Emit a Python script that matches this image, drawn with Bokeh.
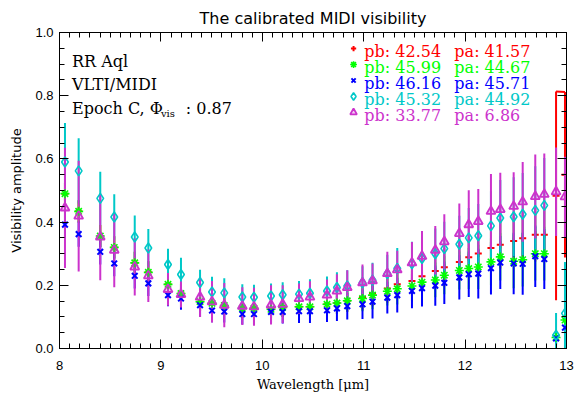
import numpy as np
from bokeh.plotting import figure
from bokeh.models import (Range1d, LinearAxis, SingleIntervalTicker, Label,
                          PrintfTickFormatter, CustomJSTickFormatter)
from bokeh.core.properties import value
from bokeh.embed import file_html
from bokeh.resources import INLINE

# ---------------- data ----------------
wavelength = [8.054, 8.189, 8.402, 8.540, 8.742, 8.876, 9.070, 9.198, 9.386, 9.504,
              9.625, 9.803, 9.918, 10.086, 10.201, 10.362, 10.470, 10.638, 10.736, 10.838,
              10.988, 11.087, 11.233, 11.331, 11.476, 11.575, 11.706, 11.795, 11.943, 12.036,
              12.130, 12.255, 12.347, 12.479, 12.568, 12.692, 12.781, 12.897, 12.985]

vis_red = [0.490, 0.434, 0.356, 0.320, 0.271, 0.241, 0.203, 0.174, 0.148, 0.143,
           0.136, 0.127, 0.127, 0.124, 0.130, 0.132, 0.132, 0.140, 0.144, 0.151,
           0.163, 0.174, 0.190, 0.203, 0.214, 0.229, 0.245, 0.257, 0.274, 0.289,
           0.301, 0.318, 0.328, 0.340, 0.349, 0.360, 0.360, 0.483, 0.550]
err_red = [0.035, 0.035, 0.035, 0.035, 0.035, 0.035, 0.030, 0.030, 0.030, 0.030,
           0.030, 0.030, 0.030, 0.030, 0.030, 0.030, 0.030, 0.030, 0.035, 0.035,
           0.040, 0.040, 0.045, 0.045, 0.050, 0.050, 0.055, 0.060, 0.060, 0.065,
           0.070, 0.070, 0.075, 0.080, 0.080, 0.085, 0.085, 0.330, 0.262]

vis_green = [0.490, 0.434, 0.356, 0.320, 0.271, 0.241, 0.203, 0.174, 0.148, 0.143,
             0.136, 0.127, 0.127, 0.124, 0.130, 0.132, 0.132, 0.140, 0.144, 0.151,
             0.158, 0.169, 0.181, 0.189, 0.198, 0.210, 0.217, 0.232, 0.247, 0.253,
             0.258, 0.274, 0.290, 0.276, 0.281, 0.300, 0.300, 0.035, 0.090]
err_green = [0.035, 0.035, 0.035, 0.035, 0.035, 0.035, 0.030, 0.030, 0.030, 0.030,
             0.030, 0.030, 0.030, 0.030, 0.030, 0.030, 0.030, 0.030, 0.035, 0.035,
             0.040, 0.045, 0.045, 0.050, 0.050, 0.050, 0.055, 0.060, 0.060, 0.065,
             0.070, 0.075, 0.075, 0.085, 0.085, 0.085, 0.085, 0.020, 0.020]

vis_blue = [0.392, 0.362, 0.306, 0.269, 0.230, 0.206, 0.169, 0.158, 0.137, 0.120,
            0.117, 0.109, 0.109, 0.116, 0.116, 0.118, 0.118, 0.121, 0.127, 0.134,
            0.140, 0.148, 0.161, 0.169, 0.182, 0.191, 0.199, 0.208, 0.225, 0.235,
            0.237, 0.254, 0.272, 0.269, 0.268, 0.292, 0.283, 0.032, 0.066]
err_blue = [0.040, 0.040, 0.040, 0.040, 0.040, 0.040, 0.035, 0.035, 0.037, 0.037,
            0.035, 0.033, 0.033, 0.037, 0.037, 0.037, 0.037, 0.037, 0.040, 0.042,
            0.047, 0.053, 0.050, 0.055, 0.055, 0.058, 0.064, 0.067, 0.070, 0.072,
            0.079, 0.083, 0.084, 0.097, 0.098, 0.097, 0.095, 0.020, 0.020]

vis_cyan = [0.590, 0.562, 0.475, 0.416, 0.353, 0.318, 0.266, 0.234, 0.209, 0.179,
            0.176, 0.163, 0.162, 0.166, 0.170, 0.172, 0.175, 0.182, 0.193, 0.198,
            0.208, 0.216, 0.237, 0.253, 0.268, 0.285, 0.300, 0.316, 0.330, 0.350,
            0.357, 0.388, 0.413, 0.417, 0.425, 0.437, 0.453, 0.042, 0.111]
err_cyan = [0.124, 0.103, 0.084, 0.072, 0.068, 0.060, 0.050, 0.053, 0.040, 0.048,
            0.046, 0.040, 0.040, 0.040, 0.040, 0.042, 0.044, 0.046, 0.048, 0.050,
            0.052, 0.055, 0.060, 0.065, 0.070, 0.075, 0.080, 0.085, 0.090, 0.095,
            0.100, 0.110, 0.120, 0.125, 0.130, 0.140, 0.150, 0.070, 0.163]

vis_magenta = [0.445, 0.419, 0.353, 0.311, 0.258, 0.230, 0.187, 0.171, 0.163, 0.148,
               0.137, 0.134, 0.132, 0.138, 0.140, 0.158, 0.163, 0.169, 0.182, 0.193,
               0.208, 0.214, 0.237, 0.249, 0.271, 0.292, 0.311, 0.338, 0.364, 0.392,
               0.402, 0.434, 0.440, 0.450, 0.464, 0.481, 0.488, 0.496, 0.480]
err_magenta = [0.190, 0.175, 0.137, 0.117, 0.090, 0.083, 0.052, 0.041, 0.063, 0.066,
               0.070, 0.060, 0.060, 0.062, 0.060, 0.048, 0.050, 0.049, 0.053, 0.055,
               0.058, 0.055, 0.069, 0.060, 0.066, 0.080, 0.077, 0.087, 0.095, 0.109,
               0.103, 0.118, 0.116, 0.108, 0.126, 0.133, 0.129, 0.140, 0.127]

legend_pb = ["42.54", "45.99", "46.16", "45.32", "33.77"]
legend_pa = ["41.57", "44.67", "45.71", "44.92", "6.86"]

series_colors = ["#ff0000", "#00ff00", "#0000ff", "#00c8c8", "#cc33cc"]
series_markers = ["cross", "asterisk", "x", "diamond", "triangle"]

# ---------------- figure ----------------
p = figure(width=576, height=395, x_range=Range1d(8, 13), y_range=Range1d(0, 1),
           output_backend="svg", toolbar_location=None,
           min_border_left=59, min_border_right=10, min_border_top=32, min_border_bottom=47,
           title="The calibrated MIDI visibility")
p.background_fill_color = "white"
p.border_fill_color = "white"
p.grid.visible = False
p.outline_line_color = "black"
p.outline_line_width = 1

p.title.align = "center"
p.title.text_font = "DejaVu Sans"
p.title.text_font_size = "16px"
p.title.text_font_style = "normal"
p.title.text_color = "black"
p.title.offset = -8

def style_axis(ax, labels=True):
    ax.major_tick_in = 9
    ax.major_tick_out = 0
    ax.minor_tick_in = 5
    ax.minor_tick_out = 0
    ax.axis_line_color = "black"
    ax.major_tick_line_color = "black"
    ax.minor_tick_line_color = "black"
    if labels:
        ax.major_label_text_font = "Liberation Sans"
        ax.major_label_text_font_size = "13px"
        ax.major_label_text_color = "black"
        ax.axis_label_text_color = "black"
    else:
        ax.formatter = CustomJSTickFormatter(code="return ''")
        ax.major_label_standoff = 0

p.xaxis.ticker = SingleIntervalTicker(interval=1, num_minor_ticks=10)
p.yaxis.ticker = SingleIntervalTicker(interval=0.2, num_minor_ticks=4)
style_axis(p.xaxis[0])
style_axis(p.yaxis[0])
p.xaxis.major_label_standoff = 12
p.yaxis.major_label_standoff = 6
p.yaxis.formatter = PrintfTickFormatter(format="%.1f")
p.xaxis.formatter = PrintfTickFormatter(format="%d")

p.xaxis.axis_label = "Wavelength [\u03bcm]"
p.xaxis.axis_label_text_font = "DejaVu Serif"
p.xaxis.axis_label_text_font_size = "13px"
p.xaxis.axis_label_text_font_style = "normal"
p.xaxis.axis_label_standoff = 4
p.yaxis.axis_label = "Visibility amplitude"
p.yaxis.axis_label_text_font = "DejaVu Sans"
p.yaxis.axis_label_text_font_size = "13px"
p.yaxis.axis_label_text_font_style = "normal"
p.yaxis.axis_label_standoff = 8

top_ax = LinearAxis(ticker=SingleIntervalTicker(interval=1, num_minor_ticks=10))
style_axis(top_ax, labels=False)
p.add_layout(top_ax, "above")
right_ax = LinearAxis(ticker=SingleIntervalTicker(interval=0.2, num_minor_ticks=4))
style_axis(right_ax, labels=False)
p.add_layout(right_ax, "right")

lam = np.array(wavelength)
all_series = [
    (np.array(vis_red), np.array(err_red)),
    (np.array(vis_green), np.array(err_green)),
    (np.array(vis_blue), np.array(err_blue)),
    (np.array(vis_cyan), np.array(err_cyan)),
    (np.array(vis_magenta), np.array(err_magenta)),
]

def draw_markers(i, xs, ys, size_scale=1.0):
    c = series_colors[i]
    m = series_markers[i]
    if m == "cross":
        p.scatter(xs, ys, marker="cross", size=7 * size_scale, line_color=c, line_width=2)
    elif m == "asterisk":
        p.scatter(xs, ys, marker="asterisk", size=9 * size_scale, line_color=c, line_width=1.6)
    elif m == "x":
        p.scatter(xs, ys, marker="x", size=8 * size_scale, line_color=c, line_width=2)
    elif m == "diamond":
        p.scatter(xs, ys, marker="diamond", size=10 * size_scale, line_color=c,
                  fill_color=None, line_width=1.6)
    else:
        p.scatter(xs, ys, marker="triangle", size=9 * size_scale, line_color=c,
                  fill_color=c, fill_alpha=0.25, line_width=1.8)

# red: bars + markers first
v, e = all_series[0]
p.segment(lam, v - e, lam, v + e, line_color=series_colors[0], line_width=2)
draw_markers(0, lam, v)
# red cap joining the two last (clipped) error-bar tops
p.line(lam[-2:], (v + e)[-2:], line_color=series_colors[0], line_width=2)

for i in range(1, 5):
    v, e = all_series[i]
    p.segment(lam, v - e, lam, v + e, line_color=series_colors[i], line_width=2)
for i in range(1, 5):
    v, e = all_series[i]
    draw_markers(i, lam, v)

# ---------------- legend (upper right) ----------------
leg_x_marker = 10.90
leg_x_pb = 11.006
leg_x_pa = 11.894
leg_y0 = 0.949
leg_dy = 0.0505
for i in range(5):
    ym = leg_y0 - i * leg_dy
    draw_markers(i, [leg_x_marker], [ym], size_scale=0.75)
    p.text([leg_x_pb], [ym - 0.009], text=["pb: " + legend_pb[i]],
           text_font=value("DejaVu Serif"), text_font_size="16px",
           text_color=series_colors[i], text_baseline="alphabetic", text_align="left")
    p.text([leg_x_pa], [ym - 0.009], text=["pa: " + legend_pa[i]],
           text_font=value("DejaVu Serif"), text_font_size="16px",
           text_color=series_colors[i], text_baseline="alphabetic", text_align="left")

# ---------------- annotations (upper left) ----------------
def add_label(x, y, txt, size="16px"):
    p.add_layout(Label(x=x, y=y, text=txt, text_font="DejaVu Serif", text_font_size=size,
                       text_color="black", text_baseline="alphabetic", text_align="left"))

add_label(8.123, 0.909, "RR Aql")
add_label(8.123, 0.835, "VLTI/MIDI")
add_label(8.123, 0.759, "Epoch C, \u03a6")
add_label(9.000, 0.744, "vis", size="10px")
add_label(9.245, 0.759, ": 0.87")

open("out.html", "w").write(file_html(p, INLINE))
